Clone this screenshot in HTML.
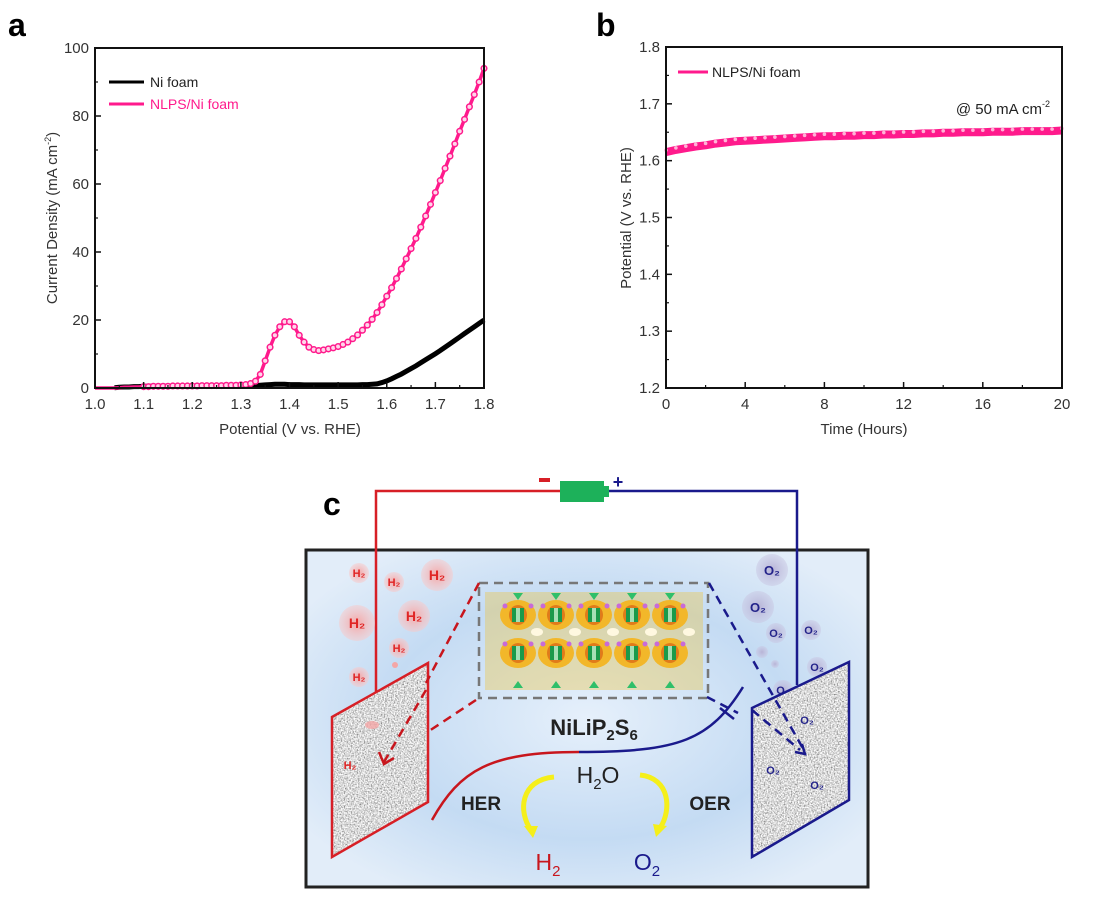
<!DOCTYPE html>
<html><head><meta charset="utf-8"><style>
html,body{margin:0;padding:0;background:#fff;}
svg text{font-family:"Liberation Sans",Arial,sans-serif;}
</style></head><body>
<svg id="fig" width="1113" height="914" viewBox="0 0 1113 914" xmlns="http://www.w3.org/2000/svg">
<defs>
<filter id="noise" x="0" y="0" width="100%" height="100%"><feTurbulence type="fractalNoise" baseFrequency="0.7" numOctaves="2" seed="3"/><feColorMatrix type="matrix" values="1.6 0 0 0 -0.1  1.6 0 0 0 -0.1  1.6 0 0 0 -0.1  0 0 0 0 1"/></filter>
<clipPath id="clL"><polygon points="332,717 428,663 428,802 332,857"/></clipPath>
<clipPath id="clR"><polygon points="752,708 849,662 849,800 752,857"/></clipPath>
<radialGradient id="water" cx="0.5" cy="0.5" r="0.6"><stop offset="0" stop-color="#e6f0fb"/><stop offset="0.6" stop-color="#c4dbf3"/><stop offset="1" stop-color="#e2edf9"/></radialGradient>
<radialGradient id="hb"><stop offset="0" stop-color="#f4a6a6"/><stop offset="1" stop-color="#f8c9c9" stop-opacity="0.5"/></radialGradient>
<radialGradient id="ob"><stop offset="0" stop-color="#b7b3d6"/><stop offset="1" stop-color="#c8c6e2" stop-opacity="0.5"/></radialGradient>
</defs>
<g id="pa"></g>
<g id="pb"></g>
<g id="pc">
<text x="323" y="515" font-size="32" font-weight="bold">c</text>
<rect x="306" y="550" width="562" height="337" fill="url(#water)" stroke="#222" stroke-width="3"/>
<polyline points="376,700 376,491 560,491" fill="none" stroke="#d71f26" stroke-width="2.5"/>
<polyline points="609,491 797,491 797,685" fill="none" stroke="#1a1a8c" stroke-width="2.5"/>
<rect x="560" y="481" width="44" height="21" fill="#1db15a"/>
<rect x="603" y="486" width="6" height="11" fill="#1db15a"/>
<rect x="539" y="478" width="11" height="4" fill="#d71f26"/>
<text x="618" y="488" font-size="18" font-weight="bold" fill="#1a1a8c" text-anchor="middle">+</text>
<g font-size="11" font-weight="bold" fill="#e02525" text-anchor="middle">
<circle cx="359" cy="573" r="10" fill="url(#hb)"/><text x="359" y="577">H₂</text>
<circle cx="394" cy="582" r="10" fill="url(#hb)"/><text x="394" y="586">H₂</text>
<circle cx="437" cy="575" r="16" fill="url(#hb)"/><text x="437" y="580" font-size="14">H₂</text>
<circle cx="357" cy="623" r="18" fill="url(#hb)"/><text x="357" y="628" font-size="14">H₂</text>
<circle cx="414" cy="616" r="16" fill="url(#hb)"/><text x="414" y="621" font-size="14">H₂</text>
<circle cx="399" cy="648" r="10" fill="url(#hb)"/><text x="399" y="652">H₂</text>
<circle cx="359" cy="677" r="10" fill="url(#hb)"/><text x="359" y="681">H₂</text>
<circle cx="395" cy="665" r="3" fill="#f4a6a6"/>
</g>
<g font-size="11" font-weight="bold" fill="#23238a" text-anchor="middle">
<circle cx="772" cy="570" r="16" fill="url(#ob)"/><text x="772" y="575" font-size="13">O₂</text>
<circle cx="758" cy="607" r="16" fill="url(#ob)"/><text x="758" y="612" font-size="13">O₂</text>
<circle cx="776" cy="633" r="10" fill="url(#ob)"/><text x="776" y="637">O₂</text>
<circle cx="811" cy="630" r="10" fill="url(#ob)"/><text x="811" y="634">O₂</text>
<circle cx="762" cy="652" r="6" fill="url(#ob)"/><circle cx="775" cy="664" r="4" fill="url(#ob)"/>
<circle cx="817" cy="667" r="10" fill="url(#ob)"/><text x="817" y="671">O₂</text>
<circle cx="783" cy="690" r="10" fill="url(#ob)"/><text x="783" y="694">O₂</text>
</g>
<g>
<rect x="330" y="660" width="100" height="200" filter="url(#noise)" clip-path="url(#clL)"/>
<polygon points="332,717 428,663 428,802 332,857" fill="none" stroke="#d71f26" stroke-width="2.5"/>
<ellipse cx="372" cy="725" rx="7" ry="4" fill="#f4a6a6" opacity="0.8"/>
<text x="350" y="769" font-size="11" font-weight="bold" fill="#e02525" text-anchor="middle">H₂</text>
</g>
<g>
<rect x="750" y="660" width="102" height="200" filter="url(#noise)" clip-path="url(#clR)"/>
<polygon points="752,708 849,662 849,800 752,857" fill="none" stroke="#1a1a8c" stroke-width="2.5"/>
<g font-size="11" font-weight="bold" fill="#23238a" text-anchor="middle"><text x="807" y="724">O₂</text><text x="773" y="774">O₂</text><text x="817" y="789">O₂</text></g>
</g>
<g id="crys">
<rect x="485" y="592" width="218" height="98" fill="#f1c232" opacity="0.35"/>
</g>
<rect x="479" y="583" width="229" height="115" fill="none" stroke="#777" stroke-width="2.5" stroke-dasharray="9,6"/>
<g fill="none" stroke="#c8161d" stroke-width="2.5" stroke-dasharray="9,6">
<line x1="479" y1="583" x2="426" y2="683"/><line x1="476" y1="700" x2="426" y2="733"/><line x1="426" y1="690" x2="384" y2="762"/>
</g>
<polyline points="379,752 384,764 394,758" fill="none" stroke="#c8161d" stroke-width="2.5"/>
<g fill="none" stroke="#1a1a8c" stroke-width="2.5" stroke-dasharray="9,6">
<line x1="709" y1="583" x2="805" y2="752"/><line x1="707" y1="697" x2="738" y2="713"/><line x1="752" y1="710" x2="800" y2="750"/>
</g>
<polyline points="795,752 805,754 802,744" fill="none" stroke="#1a1a8c" stroke-width="2.5"/>
<path d="M432,820 C460,770 490,752 579,752" fill="none" stroke="#c8161d" stroke-width="2.5"/>
<path d="M579,752 C680,752 710,740 743,687" fill="none" stroke="#1a1a8c" stroke-width="2.5"/>
<line x1="720" y1="708" x2="734" y2="719" stroke="#1a1a8c" stroke-width="2.5"/>
<text x="594" y="735" font-size="22" font-weight="bold" fill="#222" text-anchor="middle">NiLiP<tspan font-size="15" dy="5">2</tspan><tspan dy="-5">S</tspan><tspan font-size="15" dy="5">6</tspan></text>
<text x="598" y="783" font-size="23" fill="#222" text-anchor="middle">H<tspan font-size="15" dy="6">2</tspan><tspan dy="-6">O</tspan></text>
<text x="481" y="810" font-size="19" font-weight="bold" fill="#222" text-anchor="middle">HER</text>
<text x="710" y="810" font-size="19" font-weight="bold" fill="#222" text-anchor="middle">OER</text>
<text x="548" y="870" font-size="23" fill="#c8161d" text-anchor="middle">H<tspan font-size="15" dy="6">2</tspan></text>
<text x="647" y="870" font-size="23" fill="#1a1a8c" text-anchor="middle">O<tspan font-size="15" dy="6">2</tspan></text>
<path d="M554,777 C520,780 518,812 531,830" fill="none" stroke="#f5ef1a" stroke-width="5"/>
<polygon points="524,826 538,826 533,838" fill="#f5ef1a"/>
<path d="M640,775 C670,778 672,810 660,828" fill="none" stroke="#f5ef1a" stroke-width="5"/>
<polygon points="653,824 667,826 656,837" fill="#f5ef1a"/>
</g>
</svg>
<script>
// Panel a data
const aX = [1.00,1.01,1.02,1.03,1.04,1.05,1.06,1.07,1.08,1.09,1.10,1.11,1.12,1.13,1.14,1.15,1.16,1.17,1.18,1.19,1.20,1.21,1.22,1.23,1.24,1.25,1.26,1.27,1.28,1.29,1.30,1.31,1.32,1.33,1.34,1.35,1.36,1.37,1.38,1.39,1.40,1.41,1.42,1.43,1.44,1.45,1.46,1.47,1.48,1.49,1.50,1.51,1.52,1.53,1.54,1.55,1.56,1.57,1.58,1.59,1.60,1.61,1.62,1.63,1.64,1.65,1.66,1.67,1.68,1.69,1.70,1.71,1.72,1.73,1.74,1.75,1.76,1.77,1.78,1.79,1.80];
const nlpsJ = [0,0,0,0,0,0.1,0.2,0.2,0.3,0.3,0.4,0.4,0.5,0.5,0.5,0.5,0.6,0.6,0.6,0.6,0.6,0.6,0.7,0.7,0.7,0.7,0.7,0.8,0.8,0.8,0.9,1.0,1.3,2.0,4,8,12,15.5,18,19.5,19.5,18,15.5,13.5,12,11.3,11,11.2,11.5,11.8,12.2,12.8,13.5,14.5,15.6,17,18.5,20.2,22.2,24.5,27,29.5,32.2,35,38,41,44,47.3,50.6,54,57.5,61,64.6,68.2,71.8,75.5,79,82.7,86.3,90,94];
const niJ = [null,null,null,null,0.1,0.2,0.3,0.3,0.4,0.4,0.5,0.5,0.5,0.5,0.6,0.6,0.6,0.6,0.6,0.6,0.6,0.6,0.6,0.6,0.6,0.6,0.6,0.6,0.6,0.7,0.7,0.7,0.7,0.7,0.8,0.9,1.0,1.1,1.1,1.1,1.0,1.0,1.0,0.9,0.9,0.9,0.9,0.9,0.9,0.9,0.9,0.9,0.9,0.9,0.9,1.0,1.0,1.1,1.2,1.6,2.1,2.7,3.4,4.1,4.9,5.7,6.5,7.4,8.3,9.2,10.1,11,12,13,14,15,16,17,18,19,20];
const aXTicks = ["1.0","1.1","1.2","1.3","1.4","1.5","1.6","1.7","1.8"];
const aYTicks = [0,20,40,60,80,100];
// Panel b data
const bT = [0,0.5,1,1.5,2,2.5,3,3.5,4,4.5,5,5.5,6,6.5,7,7.5,8,8.5,9,9.5,10,10.5,11,11.5,12,12.5,13,13.5,14,14.5,15,15.5,16,16.5,17,17.5,18,18.5,19,19.5,20];
const bV = [1.615,1.619,1.622,1.625,1.627,1.630,1.632,1.634,1.635,1.636,1.637,1.638,1.639,1.640,1.641,1.642,1.643,1.643,1.644,1.644,1.645,1.645,1.646,1.646,1.647,1.647,1.648,1.648,1.649,1.649,1.650,1.650,1.650,1.651,1.651,1.651,1.652,1.652,1.652,1.652,1.653];
const bXTicks = [0,4,8,12,16,20];
const bYTicks = ["1.2","1.3","1.4","1.5","1.6","1.7","1.8"];

const NS="http://www.w3.org/2000/svg";
function mk(parent,tag,attrs,text){const e=document.createElementNS(NS,tag);for(const k in attrs)e.setAttribute(k,attrs[k]);if(text!==undefined)e.textContent=text;parent.appendChild(e);return e;}

// ---- Panel a ----
const pa=document.getElementById('pa');
const aL=95,aR=484,aT=48,aB=388;
const ax=v=>aL+(v-1.0)/0.8*(aR-aL);
const ay=v=>aB-(v/100)*(aB-aT);
const la=mk(pa,'text',{x:8,y:36,'font-size':32,'font-weight':'bold'},'a');


let d='';niJ.forEach((v,i)=>{if(v===null)return;d+=(d?'L':'M')+ax(aX[i]).toFixed(1)+','+ay(v).toFixed(1);});
const niPath=mk(pa,'path',{d:d,fill:'none',stroke:'#000','stroke-width':5});


let d2='';nlpsJ.forEach((v,i)=>{d2+=(i?'L':'M')+ax(aX[i]).toFixed(1)+','+ay(v).toFixed(1);});
const nl=mk(pa,'path',{d:d2,fill:'none',stroke:'#ff1a8c','stroke-width':3.5});


nlpsJ.forEach((v,i)=>{
  if(aX[i]<1.10)return;
  const c=mk(pa,'circle',{cx:ax(aX[i]),cy:ay(v),r:2.8,fill:'#ffd6ea',stroke:'#ff1a8c','stroke-width':1.5});
  
  
});
const fa=mk(pa,'rect',{x:aL,y:aT,width:aR-aL,height:aB-aT,fill:'none',stroke:'#111','stroke-width':2});


aXTicks.forEach((t,i)=>{
  const x=ax(parseFloat(t));
  mk(pa,'line',{x1:x,y1:aB,x2:x,y2:aB-6,stroke:'#111','stroke-width':1.5});
  if(i<aXTicks.length-1){const xm=ax(parseFloat(t)+0.05);mk(pa,'line',{x1:xm,y1:aB,x2:xm,y2:aB-3,stroke:'#111','stroke-width':1.2});}
  const tl=mk(pa,'text',{x:x,y:aB+21,'font-size':15,'text-anchor':'middle',fill:'#333'},t);
  
  
});
aYTicks.forEach((t,i)=>{
  const y=ay(t);
  mk(pa,'line',{x1:aL,y1:y,x2:aL+6,y2:y,stroke:'#111','stroke-width':1.5});
  if(i<aYTicks.length-1){const ym=ay(t+10);mk(pa,'line',{x1:aL,y1:ym,x2:aL+3,y2:ym,stroke:'#111','stroke-width':1.2});}
  const tl=mk(pa,'text',{x:aL-6,y:y+5,'font-size':15,'text-anchor':'end',fill:'#333'},String(t));
  
  
});
const xta=mk(pa,'text',{x:290,y:434,'font-size':15,'text-anchor':'middle',fill:'#333'},'Potential (V vs. RHE)');


const yta=mk(pa,'text',{x:0,y:0,'font-size':15,'text-anchor':'middle',fill:'#333',transform:'translate(57,218) rotate(-90)'});


yta.innerHTML='Current Density (mA cm<tspan font-size="9" dy="-6">-2</tspan><tspan dy="6">)</tspan>';
const lg1=mk(pa,'g',{});


mk(lg1,'line',{x1:109,y1:82,x2:144,y2:82,stroke:'#000','stroke-width':3});
mk(lg1,'text',{x:150,y:87,'font-size':14,fill:'#222'},'Ni foam');
mk(lg1,'line',{x1:109,y1:104,x2:144,y2:104,stroke:'#ff1a8c','stroke-width':3});
mk(lg1,'text',{x:150,y:109,'font-size':14,fill:'#ff1a8c'},'NLPS/Ni foam');

// ---- Panel b ----
const pb=document.getElementById('pb');
const bL=666,bR=1062,bTp=47,bB=388;
const bx=v=>bL+(v/20)*(bR-bL);
const by=v=>bB-(v-1.2)/0.6*(bB-bTp);
const lb=mk(pb,'text',{x:596,y:36,'font-size':32,'font-weight':'bold'},'b');


let d3='';bV.forEach((v,i)=>{d3+=(i?'L':'M')+bx(bT[i]).toFixed(1)+','+by(v).toFixed(1);});
const bl=mk(pb,'path',{d:d3,fill:'none',stroke:'#ff1a8c','stroke-width':8,'stroke-linejoin':'round'});


bV.forEach((v,i)=>{
  const c=mk(pb,'circle',{cx:bx(bT[i]),cy:by(v)-2,r:1.8,fill:'#ffb3d6',stroke:'none'});
  
  
});
const fb=mk(pb,'rect',{x:bL,y:bTp,width:bR-bL,height:bB-bTp,fill:'none',stroke:'#111','stroke-width':2});


bXTicks.forEach((t,i)=>{
  const x=bx(t);
  mk(pb,'line',{x1:x,y1:bB,x2:x,y2:bB-6,stroke:'#111','stroke-width':1.5});
  if(i<bXTicks.length-1){const xm=bx(t+2);mk(pb,'line',{x1:xm,y1:bB,x2:xm,y2:bB-3,stroke:'#111','stroke-width':1.2});}
  const tl=mk(pb,'text',{x:x,y:bB+21,'font-size':15,'text-anchor':'middle',fill:'#333'},String(t));
  
  
});
bYTicks.forEach((t,i)=>{
  const y=by(parseFloat(t));
  mk(pb,'line',{x1:bL,y1:y,x2:bL+6,y2:y,stroke:'#111','stroke-width':1.5});
  if(i<bYTicks.length-1){const ym=by(parseFloat(t)+0.05);mk(pb,'line',{x1:bL,y1:ym,x2:bL+3,y2:ym,stroke:'#111','stroke-width':1.2});}
  const tl=mk(pb,'text',{x:bL-6,y:y+5,'font-size':15,'text-anchor':'end',fill:'#333'},t);
  
  
});
const xtb=mk(pb,'text',{x:864,y:434,'font-size':15,'text-anchor':'middle',fill:'#333'},'Time (Hours)');


const ytb=mk(pb,'text',{x:0,y:0,'font-size':15,'text-anchor':'middle',fill:'#333',transform:'translate(631,218) rotate(-90)'},'Potential (V vs. RHE)');


const lg2=mk(pb,'g',{});


mk(lg2,'line',{x1:678,y1:72,x2:708,y2:72,stroke:'#ff1a8c','stroke-width':3});
mk(lg2,'text',{x:712,y:77,'font-size':14,fill:'#222'},'NLPS/Ni foam');
const ann=mk(pb,'text',{x:1050,y:114,'font-size':15,'text-anchor':'end',fill:'#222'});


ann.innerHTML='@ 50 mA cm<tspan font-size="9" dy="-7">-2</tspan>';

// crystal decoration
const cr=document.getElementById('crys');
for(let k=0;k<5;k++){
  const cx=518+k*38;
  [612,650].forEach(cy=>{
    mk(cr,'ellipse',{cx:cx,cy:cy+3,rx:18,ry:15,fill:'#f2b72a'});
    mk(cr,'ellipse',{cx:cx,cy:cy+3,rx:9,ry:10,fill:'#e07b1a'});
    mk(cr,'rect',{x:cx-6,y:cy-4,width:12,height:14,fill:'#1a9a4a'});
    mk(cr,'rect',{x:cx-2,y:cy-4,width:4,height:14,fill:'#a5e0b5'});
    mk(cr,'circle',{cx:cx-13,cy:cy-6,r:2.5,fill:'#c86ad8'});
    mk(cr,'circle',{cx:cx+13,cy:cy-6,r:2.5,fill:'#c86ad8'});
  });
  mk(cr,'path',{d:`M${cx-5},593 L${cx+5},593 L${cx},600 Z`,fill:'#2fbf6a'});
  mk(cr,'path',{d:`M${cx-5},688 L${cx+5},688 L${cx},681 Z`,fill:'#2fbf6a'});
  mk(cr,'ellipse',{cx:cx+19,cy:632,rx:6,ry:4,fill:'#fff8e0'});
}
</script>
</body></html>
